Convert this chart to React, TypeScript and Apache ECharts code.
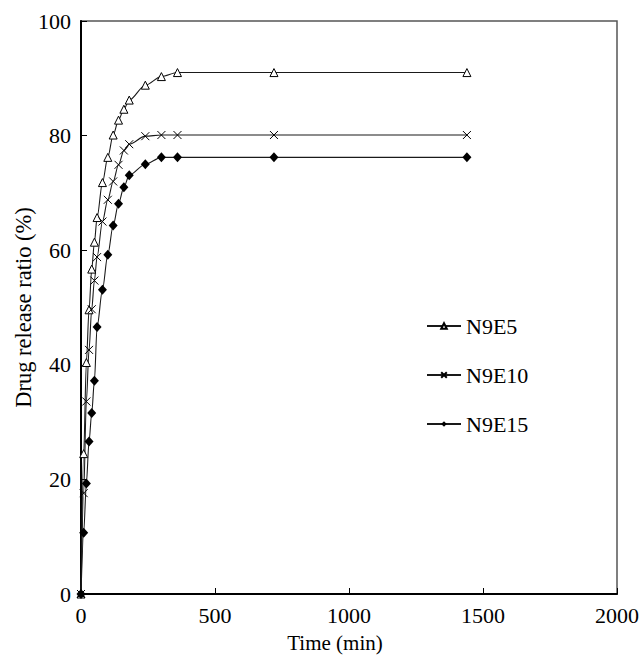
import React, { useEffect, useRef } from "react";
import * as echarts from "echarts";

const times = [0, 10, 20, 30, 40, 50, 60, 80, 100, 120, 140, 160, 180, 240, 300, 360, 720, 1440];
const n9e5 = [0, 24.5, 40.4, 49.6, 56.7, 61.4, 65.7, 71.8, 76.2, 80.1, 82.7, 84.6, 86.2, 88.8, 90.3, 91.0, 91.0, 91.0];
const n9e10 = [0, 17.6, 33.6, 42.6, 49.7, 54.7, 58.8, 65.0, 68.8, 72.0, 74.9, 77.4, 78.5, 79.9, 80.1, 80.1, 80.1, 80.1];
const n9e15 = [0, 10.7, 19.3, 26.6, 31.6, 37.2, 46.6, 53.1, 59.2, 64.3, 68.1, 71.0, 73.1, 75.0, 76.2, 76.2, 76.2, 76.2];
const seriesNames = ["N9E5", "N9E10", "N9E15"];
const xTicks = [0, 500, 1000, 1500, 2000];
const yTicks = [0, 20, 40, 60, 80, 100];

const FONT = "Liberation Serif";

export default function App() {
  const ref = useRef<HTMLDivElement>(null);
  useEffect(() => {
    if (!ref.current) return;
    const chart = echarts.init(ref.current, undefined, { renderer: "svg" });
    const pair = (vals: number[]) => times.map((t, i) => [t, vals[i]]);
    const lineStyle = { color: "#1a1a1a", width: 1.1 };
    chart.setOption({
      animation: false,
      backgroundColor: "#ffffff",
      textStyle: { fontFamily: FONT, color: "#000" },
      grid: {
        left: 81,
        top: 21,
        right: 26,
        bottom: 63,
        containLabel: false,
        outerBoundsMode: "none",
        show: true,
        borderColor: "#555",
        borderWidth: 1.5,
      },
      legend: {
        orient: "vertical",
        left: 421,
        top: 310,
        itemGap: 27,
        itemWidth: 34,
        itemHeight: 7,
        data: seriesNames,
        textStyle: { fontFamily: FONT, fontSize: 22, color: "#000" },
      },
      xAxis: {
        type: "value",
        min: xTicks[0],
        max: xTicks[xTicks.length - 1],
        interval: 500,
        name: "Time (min)",
        nameLocation: "middle",
        nameGap: 38,
        nameMoveOverlap: false,
        nameTextStyle: { fontFamily: FONT, fontSize: 21, color: "#000", padding: [0, 28, 0, 0] },
        axisLine: { show: true, lineStyle: { color: "#000", width: 2 } },
        axisTick: { show: true, inside: true, length: 6, lineStyle: { color: "#000", width: 1 } },
        axisLabel: {
          fontFamily: FONT,
          fontSize: 22,
          color: "#000",
          margin: 10,
          formatter: (v: number) => String(v),
        },
        splitLine: { show: false },
      },
      yAxis: {
        type: "value",
        min: yTicks[0],
        max: yTicks[yTicks.length - 1],
        interval: 20,
        name: "Drug release ratio (%)",
        nameLocation: "middle",
        nameGap: 46,
        nameMoveOverlap: false,
        nameTextStyle: { fontFamily: FONT, fontSize: 22.5, color: "#000" },
        axisLine: { show: true, lineStyle: { color: "#000", width: 2 } },
        axisTick: { show: true, inside: true, length: 6, lineStyle: { color: "#000", width: 1 } },
        axisLabel: { fontFamily: FONT, fontSize: 22, color: "#000", margin: 10 },
        splitLine: { show: false },
      },
      series: [
        {
          name: seriesNames[0],
          type: "line",
          data: pair(n9e5),
          smooth: 0.3,
          smoothMonotone: "x",
          symbol: "triangle",
          symbolSize: 8,
          lineStyle,
          itemStyle: { color: "#ffffff", borderColor: "#000", borderWidth: 1 },
        },
        {
          name: seriesNames[1],
          type: "line",
          data: pair(n9e10),
          smooth: 0.3,
          smoothMonotone: "x",
          symbol: "path://M0,0L10,10M10,0L0,10",
          symbolSize: 8,
          lineStyle,
          itemStyle: { color: "#000", borderColor: "#000", borderWidth: 1 },
        },
        {
          name: seriesNames[2],
          type: "line",
          data: pair(n9e15),
          smooth: 0.3,
          smoothMonotone: "x",
          symbol: "diamond",
          symbolSize: [9, 10],
          lineStyle,
          itemStyle: { color: "#000", borderColor: "#000", borderWidth: 0 },
        },
      ],
    });
    return () => chart.dispose();
  }, []);
  return (
    <div
      ref={ref}
      style={{ position: "fixed", left: 0, top: 0, width: 643, height: 657, background: "#fff" }}
    />
  );
}
